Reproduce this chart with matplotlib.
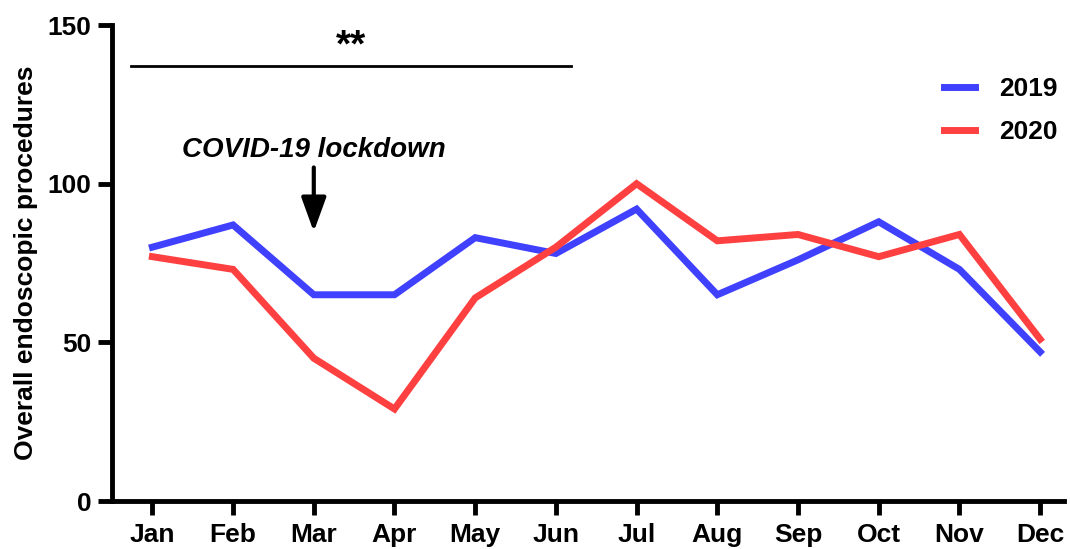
import matplotlib
matplotlib.use('agg')
import matplotlib.pyplot as plt

plt.rc('font', family='Liberation Sans', weight='bold', size=19)

months = ['Jan', 'Feb', 'Mar', 'Apr', 'May', 'Jun', 'Jul', 'Aug', 'Sep', 'Oct', 'Nov', 'Dec']
y2019 = [80, 87, 65, 65, 83, 78, 92, 65, 76, 88, 73, 47]
y2020 = [77, 73, 45, 29, 64, 80, 100, 82, 84, 77, 84, 51]
yticks = [0, 50, 100, 150]

x = list(range(len(months)))

fig = plt.figure(figsize=(10.7, 5.49), dpi=100)
ax = fig.add_axes([0.1047, 0.0874, 0.89, 0.867])

ax.plot(x, y2019, color='#4040ff', lw=5, label='2019', solid_joinstyle='miter')
ax.plot(x, y2020, color='#ff4040', lw=5, label='2020', solid_joinstyle='miter')

ax.set_xlim(-0.5, 11.3)
ax.set_ylim(0, 150)
ax.set_xticks(x)
ax.set_xticklabels(months, fontsize=19)
ax.set_yticks(yticks)
ax.set_yticklabels([str(t) for t in yticks], fontsize=19)
ax.set_ylabel('Overall endoscopic procedures', fontsize=19, fontweight='bold', labelpad=7)

for s in ['top', 'right']:
    ax.spines[s].set_visible(False)
for s in ['left', 'bottom']:
    ax.spines[s].set_linewidth(3.5)
ax.tick_params(width=3.5, length=10, direction='out', pad=5)
ax.tick_params(axis='x', pad=6)

# significance bar
ax.plot([-0.27, 5.19], [137, 137], color='black', lw=2, clip_on=False)
ax.text(2.46, 137.5, '**', ha='center', va='bottom', fontsize=28)

# lockdown arrow
ax.annotate('', xy=(2, 84), xytext=(2, 106),
            arrowprops=dict(arrowstyle='-|>,head_width=0.4,head_length=1.1',
                            color='black', lw=3))
ax.text(2, 110.5, 'COVID-19 lockdown', ha='center', va='center',
        fontsize=20, style='italic')

leg = ax.legend(loc='upper right', bbox_to_anchor=(1.018, 0.94), frameon=False,
                fontsize=19, handlelength=1.2, labelspacing=0.7, handletextpad=0.9)

plt.savefig('out.png', dpi=100)
